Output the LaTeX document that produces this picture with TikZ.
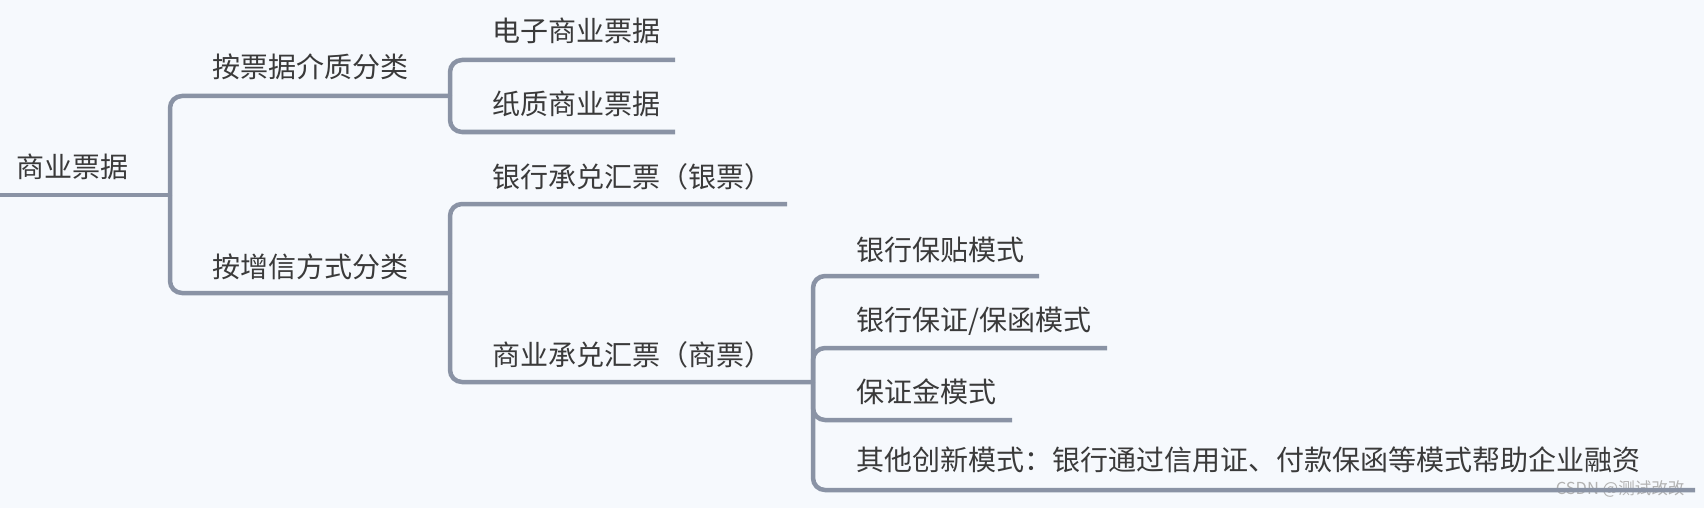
\documentclass[tikz,border=0pt]{standalone}
\usepackage{fontspec}
\setmainfont{Noto Sans CJK SC}
\definecolor{bg}{HTML}{F6F9FD}
\definecolor{ln}{HTML}{8A93A5}
\definecolor{tx}{HTML}{3A3A3A}
\begin{document}
\begin{tikzpicture}[x=1pt,y=-1pt,
  lbl/.style={anchor=base west,inner sep=0pt,text=tx,font=\fontsize{28}{30}\selectfont},
  branch/.style={draw=ln,line width=4.5pt,rounded corners=12pt,line cap=butt}]
\fill[bg] (0,0) rectangle (1704,508);
\useasboundingbox (0,0) rectangle (1704,508);
% texts
\node[lbl] (root) at (16,177) {商业票据};
\node[lbl] (a) at (212,78) {按票据介质分类};
\node[lbl] (b) at (212,277) {按增信方式分类};
\node[lbl] (a1) at (492,42) {电子商业票据};
\node[lbl] (a2) at (492,115) {纸质商业票据};
\node[lbl] (b1) at (492,187) {银行承兑汇票（银票）};
\node[lbl] (b2) at (492,365) {商业承兑汇票（商票）};
\node[lbl] (c1) at (856,260) {银行保贴模式};
\node[lbl] (c2) at (856,330) {银行保证/保函模式};
\node[lbl] (c3) at (856,402) {保证金模式};
\node[lbl] (c4) at (856,470) {其他创新模式：银行通过信用证、付款保函等模式帮助企业融资};
\node[anchor=center,inner sep=0pt,text=gray!60,font=\fontsize{16.5}{18}\selectfont] (wm) at (1620,489) {CSDN @测试改改};
% coordinates
\coordinate (s0) at (0,195);
\coordinate (j0) at (170,195);
\coordinate (j1) at (450,96);
\coordinate (j2) at (450,293);
\coordinate (e1) at (675,60);
\coordinate (e2) at (675,132);
\coordinate (e3) at (787,204);
\coordinate (j3) at (813,382);
\coordinate (f1) at (1039,276);
\coordinate (f2) at (1107,348);
\coordinate (f3) at (1012,420);
\coordinate (f4) at (1695,490);
% connectors
\draw[branch] (s0) -- (j0);
\draw[branch] (j0) |- (j1);
\draw[branch] (j0) |- (j2);
\draw[branch] (j1) |- (e1);
\draw[branch] (j1) |- (e2);
\draw[branch] (j2) |- (e3);
\draw[branch] (j2) |- (j3);
\draw[branch] (j3) |- (f1);
\draw[branch] (j3) |- (f2);
\draw[branch] (j3) |- (f3);
\draw[branch] (j3) |- (f4);
\end{tikzpicture}
\end{document}
